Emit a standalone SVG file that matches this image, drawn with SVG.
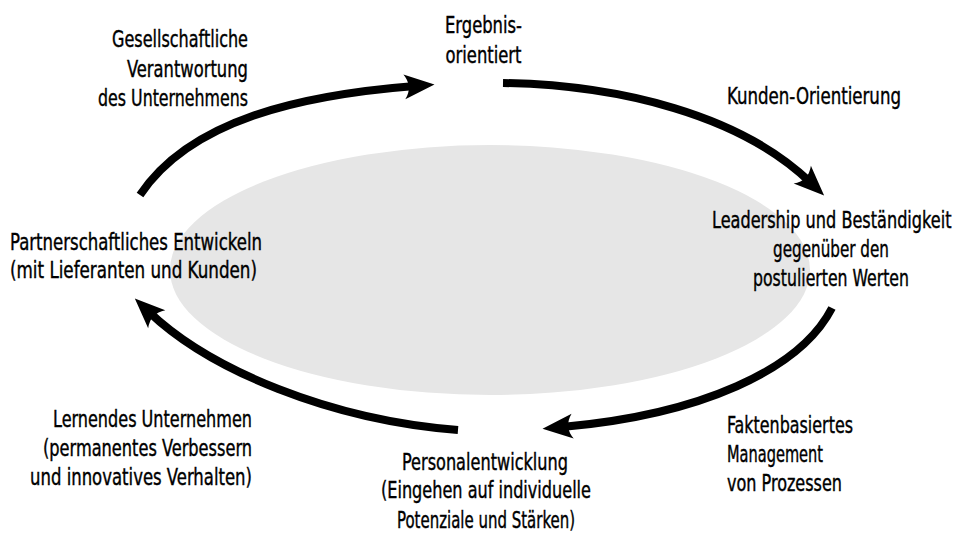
<svg xmlns="http://www.w3.org/2000/svg" width="961" height="535" viewBox="0 0 961 535">
<style>
text{font-family:"Liberation Sans Narrow","DejaVu Sans Condensed","Liberation Sans",sans-serif;font-size:23px;fill:#000;stroke:#000;stroke-width:0.4}
.e{text-anchor:end}.m{text-anchor:middle}
.c{fill:none;stroke:#000;stroke-width:8}
</style>
<defs>
<marker id="ah" markerUnits="userSpaceOnUse" markerWidth="40" markerHeight="40" refX="12" refY="0" orient="auto" overflow="visible" viewBox="-5 -20 45 40">
<path d="M0,-14 L34,0 L0,14 Q10,0 0,-14 Z" fill="#000"/>
</marker>
</defs>
<rect width="961" height="535" fill="#fff"/>
<ellipse id="center" cx="490" cy="270" rx="320" ry="125" fill="#e6e6e6"/>
<g id="connectors">
<path class="c" d="M140,195 C190,120 300,95 415,86" marker-end="url(#ah)"/>
<path class="c" d="M503,83 C620,85 740,115 810,182" marker-end="url(#ah)"/>
<path class="c" d="M832,308 C800,370 700,415 562,427" marker-end="url(#ah)"/>
<path class="c" d="M458,430 C330,420 210,370 149,312" marker-end="url(#ah)"/>
</g>
<g id="n-gesellschaft">
<text class="e" x="248" y="47" textLength="136" lengthAdjust="spacingAndGlyphs">Gesellschaftliche</text>
<text class="e" x="248" y="77" textLength="121" lengthAdjust="spacingAndGlyphs">Verantwortung</text>
<text class="e" x="248" y="106" textLength="150" lengthAdjust="spacingAndGlyphs">des Unternehmens</text>
</g>
<g id="n-ergebnis">
<text class="m" x="483.5" y="33" textLength="77" lengthAdjust="spacingAndGlyphs">Ergebnis-</text>
<text class="m" x="483.5" y="63" textLength="76" lengthAdjust="spacingAndGlyphs">orientiert</text>
</g>
<g id="n-kunden">
<text x="727" y="104" textLength="174" lengthAdjust="spacingAndGlyphs">Kunden-Orientierung</text>
</g>
<g id="n-leadership">
<text transform="translate(712,228) scale(0.78,1)" x="0" y="0" textLength="307" lengthAdjust="spacingAndGlyphs">Leadership und Beständigkeit</text>
<text class="m" x="831" y="257" textLength="116" lengthAdjust="spacingAndGlyphs">gegenüber den</text>
<text class="m" x="831" y="286" textLength="156" lengthAdjust="spacingAndGlyphs">postulierten Werten</text>
</g>
<g id="n-fakten">
<text x="727" y="433" textLength="126" lengthAdjust="spacingAndGlyphs">Faktenbasiertes</text>
<text x="727" y="462" textLength="96" lengthAdjust="spacingAndGlyphs">Management</text>
<text x="727" y="491" textLength="115" lengthAdjust="spacingAndGlyphs">von Prozessen</text>
</g>
<g id="n-personal">
<text class="m" x="485" y="470" textLength="166" lengthAdjust="spacingAndGlyphs">Personalentwicklung</text>
<text class="m" x="486" y="498" textLength="210" lengthAdjust="spacingAndGlyphs">(Eingehen auf individuelle</text>
<text class="m" x="486" y="528" textLength="178" lengthAdjust="spacingAndGlyphs">Potenziale und Stärken)</text>
</g>
<g id="n-lernend">
<text class="e" x="252" y="427" textLength="199" lengthAdjust="spacingAndGlyphs">Lernendes Unternehmen</text>
<text class="e" x="252" y="456" textLength="209" lengthAdjust="spacingAndGlyphs">(permanentes Verbessern</text>
<text class="e" x="252" y="485" textLength="222" lengthAdjust="spacingAndGlyphs">und innovatives Verhalten)</text>
</g>
<g id="n-partner">
<text x="10" y="250" textLength="252" lengthAdjust="spacingAndGlyphs">Partnerschaftliches Entwickeln</text>
<text x="10" y="278" textLength="247" lengthAdjust="spacingAndGlyphs">(mit Lieferanten und Kunden)</text>
</g>
</svg>
